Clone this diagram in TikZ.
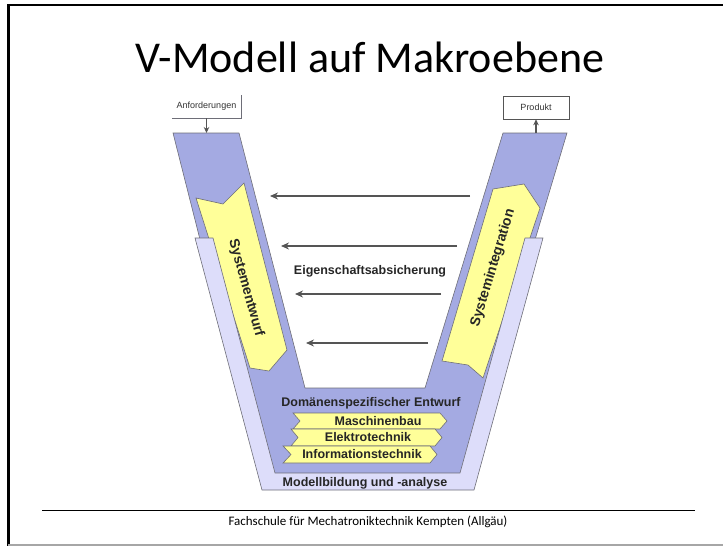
\documentclass[tikz,border=0pt]{standalone}
\usepackage{fontspec}
\setmainfont{Carlito}
\newfontfamily\arialfont{Liberation Sans}
\usetikzlibrary{arrows.meta,positioning}

\definecolor{vblue}{RGB}{164,170,226}
\definecolor{vlav}{RGB}{221,221,250}
\definecolor{vyellow}{RGB}{255,255,153}
\definecolor{vgray}{RGB}{85,85,85}
\definecolor{vedge}{RGB}{110,110,120}

\begin{document}
\begin{tikzpicture}[x=1pt, y=-1pt,
  vpart/.style={draw=vedge, line width=0.6pt},
  vlabel/.style={font=\arialfont\bfseries\fontsize{12.5}{12.5}\selectfont, text=black!85, inner sep=0pt},
  armlabel/.style={vlabel, font=\arialfont\bfseries\fontsize{14}{14}\selectfont},
  smalllabel/.style={font=\arialfont\fontsize{9}{9}\selectfont, text=black!80, inner sep=0pt,
    minimum height=23pt},
  flowarrow/.style={draw=vgray, line width=1.7pt, -{Stealth[length=8pt,width=7pt]}},
  inoutarrow/.style={draw=vgray, line width=1.2pt, -{Stealth[length=6pt,width=5.5pt]}},
]
\useasboundingbox (0,0) rectangle (723,546);

% slide frame
\draw[line width=3pt] (8,546) -- (8,5);
\draw[line width=2pt] (7,5) -- (723,5);
\draw[gray!70, line width=1.5pt] (8,545) -- (723,545);

% title
\node (title) at (370,57) {\fontsize{44}{44}\selectfont V-Modell auf Makroebene};

% dark blue V
\fill[vblue] (173,133) -- (239,133) -- (305,388) -- (425,388) -- (503,133) -- (567,133)
  -- (463,480) -- (261,480) -- cycle;
\draw[vpart] (261,480) -- (173,133) -- (239,133) -- (305,388) -- (425,388) -- (503,133)
  -- (567,133) -- (463,480);

% Systementwurf
\draw[vpart, fill=vyellow] (196,198) -- (223,204) -- (244,183) -- (287,350) -- (269,371)
  -- (250,368) -- cycle;
% Systemintegration
\draw[vpart, fill=vyellow] (493,189) -- (524,184) -- (540,208) -- (483,378) -- (468,365)
  -- (442,361) -- cycle;

% Modellbildung band
\draw[vpart, fill=vlav] (195,238) -- (262,490) -- (474,490) -- (543,238) -- (525,238)
  -- (460,473) -- (275,473) -- (213,238) -- cycle;

% domain chevrons
\draw[vpart, fill=vyellow] (293,413) -- (440,413) -- (447,421) -- (440,429) -- (293,429)
  -- (300,421) -- cycle;
\draw[vpart, fill=vyellow] (291,429) -- (435,429) -- (442,437.5) -- (435,446) -- (291,446)
  -- (298,437.5) -- cycle;
\draw[vpart, fill=vyellow] (283,446) -- (430,446) -- (437,454.5) -- (430,463) -- (283,463)
  -- (291,454.5) -- cycle;

% labels
\node[armlabel, rotate=-74.5] (entwurf) at (246,288) {Systementwurf};
\node[armlabel, rotate=73] (integration) at (493,268) {Systemintegration};
\node[vlabel] (eigen) at (370,271) {Eigenschaftsabsicherung};
\node[vlabel] (domain) at (371,403) {Domänenspezifischer Entwurf};
\node[vlabel] (maschbau) at (378,421) {Maschinenbau};
\node[vlabel] (etechnik) at (368,437.5) {Elektrotechnik};
\node[vlabel] (itechnik) at (362,454.5) {Informationstechnik};
\node[vlabel] (modell) at (365,483) {Modellbildung und -analyse};

% requirements and product
\node[smalllabel, minimum width=69pt] (anf) at (206.5,106.5) {Anforderungen};
\draw[vedge, line width=0.6pt] (anf.south west) -- (anf.south east) -- (anf.north east);
\node[smalllabel, minimum width=66pt, draw=vgray, line width=0.6pt] (prod) at (536,107.5) {Produkt};
\coordinate (anfin) at (206.5,133);
\coordinate (prodout) at (536,133);
\draw[inoutarrow] (anf.south) -- (anfin);
\draw[inoutarrow] (prodout) -- (prod.south);

% verification arrows
\foreach \n/\yy/\xa/\xb in {1/196/470/270, 2/246/457/281, 3/294/441/295, 4/343/428/306}{
  \coordinate (ev\n a) at (\xa,\yy);
  \coordinate (ev\n b) at (\xb,\yy);
  \draw[flowarrow] (ev\n a) -- (ev\n b);
}

% footer
\draw[line width=1pt] (42,510) -- (695,510);
\node (footer) at (368,522) {\fontsize{13}{13}\selectfont Fachschule für Mechatroniktechnik Kempten (Allgäu)};
\end{tikzpicture}
\end{document}
